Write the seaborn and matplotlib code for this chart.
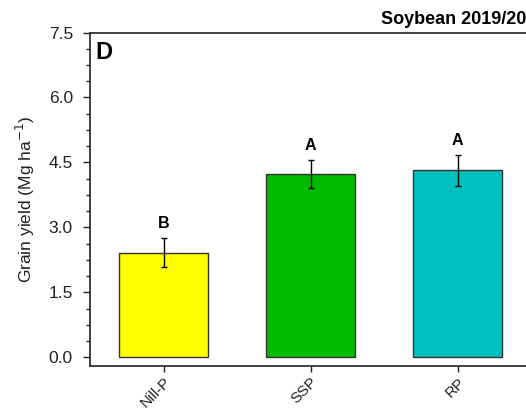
import matplotlib
matplotlib.use("Agg")
import matplotlib.pyplot as plt
from matplotlib.ticker import MultipleLocator
import numpy as np
import pandas as pd
import seaborn as sns

# Grain yield by phosphorus source
treatments = ["Nill-P", "SSP", "RP"]
yield_mean = [2.42, 4.23, 4.32]
yield_err = [0.34, 0.33, 0.36]
letters = ["B", "A", "A"]
bar_colors = ["#FFFF00", "#00BB00", "#00C0C0"]
y_ticks = [0.0, 1.5, 3.0, 4.5, 6.0, 7.5]

sns.set_style("ticks")
plt.rcParams["font.family"] = ["Liberation Sans", "DejaVu Sans"]

df = pd.DataFrame({"treatment": treatments, "yield": yield_mean})

W, H = 526, 411
fig = plt.figure(figsize=(W / 100, H / 100), dpi=100)
ax = fig.add_axes([90 / W, (H - 366) / H, (531 - 90) / W, (366 - 32.5) / H])

sns.barplot(data=df, x="treatment", y="yield", hue="treatment",
            palette=bar_colors, saturation=1, width=0.6,
            edgecolor="#333333", linewidth=1.0, legend=False, ax=ax,
            errorbar=None)

xpos = np.arange(len(treatments))
ax.errorbar(xpos, yield_mean, yerr=yield_err, fmt="none", ecolor="black",
            elinewidth=1.0, capsize=2.5, capthick=1.0)

for x, m, e, lab in zip(xpos, yield_mean, yield_err, letters):
    ax.text(x, m + e + 0.22, lab, ha="center", va="baseline",
            fontsize=11.5, fontweight="bold", color="black")

ax.set_xlim(-0.5, 2.5)
ax.set_ylim(-0.2, 7.5)
ax.set_yticks(y_ticks)
ax.set_yticklabels([f"{v:.1f}" for v in y_ticks])
ax.yaxis.set_minor_locator(MultipleLocator(0.375))

ax.set_xlabel("")
ax.set_ylabel("Grain yield (Mg ha$^{-1}$)", fontsize=12.5, color="#222222",
              labelpad=8)
ax.set_xticks(xpos)
ax.set_xticklabels(treatments, rotation=45, ha="right",
                   rotation_mode="anchor", fontsize=11, color="#222222")

ax.tick_params(axis="y", which="major", length=5.3, width=1.0,
               labelsize=12.5, labelcolor="#222222", color="#222222", pad=7)
ax.tick_params(axis="y", which="minor", length=3, width=1.0,
               color="#222222")
ax.tick_params(axis="x", which="major", length=4.5, width=1.0,
               color="#222222", pad=2)

for side in ["left", "bottom", "top"]:
    ax.spines[side].set_visible(True)
    ax.spines[side].set_linewidth(1.2)
    ax.spines[side].set_color("#222222")
ax.spines["right"].set_visible(False)

ax.text(0.012, 0.975, "D", transform=ax.transAxes, ha="left", va="top",
        fontsize=17, fontweight="bold", color="black")

fig.text(381 / W, 1 - 20 / H, "Soybean 2019/2020", ha="left", va="center",
         fontsize=13, fontweight="bold", color="black")

fig.savefig("out.png", dpi=100, facecolor="white")
